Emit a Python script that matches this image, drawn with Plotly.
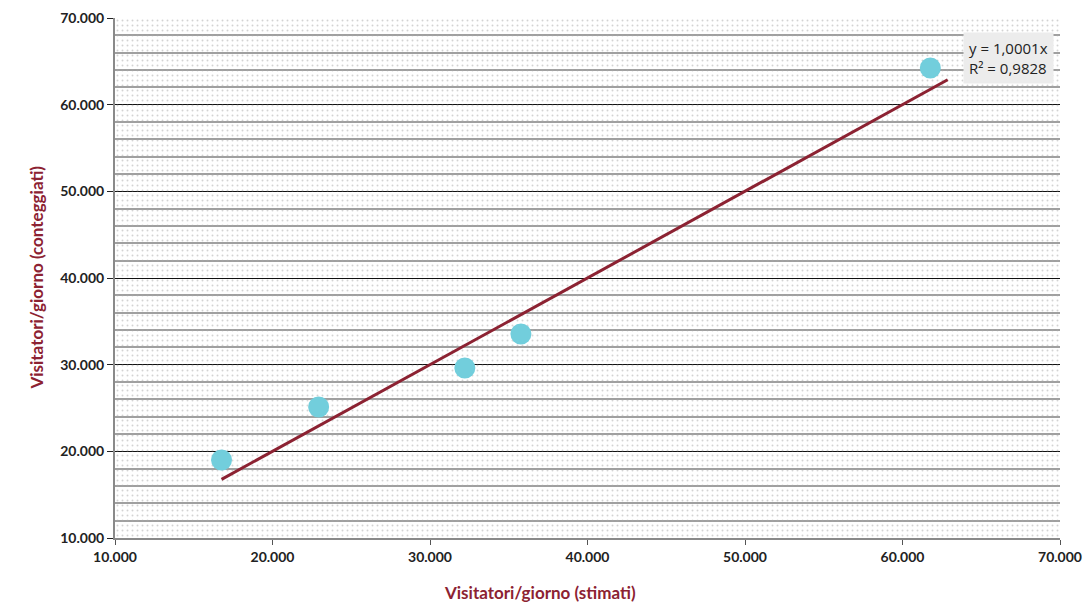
import plotly.graph_objects as go

# data
stimati = [16764, 22930, 32212, 35772, 61767]
conteggiati = [19000, 25115, 29615, 33538, 64230]
slope = 1.0001
r2 = 0.9828
forecast_forward = 1100
x_range = [10000, 70000]
y_range = [10000, 70000]
x_title = "Visitatori/giorno (stimati)"
y_title = "Visitatori/giorno (conteggiati)"

trend_x = [min(stimati), max(stimati) + forecast_forward]
trend_y = [slope * v for v in trend_x]

RED = "#8C2232"
FONT = "Lato"

fig = go.Figure()

# dotted background pattern
fig.add_trace(go.Scatter(
    x=[x_range[0], x_range[1], x_range[1], x_range[0], x_range[0]],
    y=[y_range[0], y_range[0], y_range[1], y_range[1], y_range[0]],
    mode="none", fill="toself", fillcolor="rgba(0,0,0,0)",
    fillpattern=dict(shape=".", fgcolor="#a8a8a8", bgcolor="rgba(0,0,0,0)",
                     size=5, solidity=0.12, fillmode="overlay"),
    hoverinfo="skip", showlegend=False))

fig.add_trace(go.Scatter(
    x=stimati, y=conteggiati, mode="markers",
    marker=dict(size=21, color="#72CEDC", line=dict(width=0)),
    showlegend=False))

fig.add_trace(go.Scatter(
    x=trend_x, y=trend_y, mode="lines",
    line=dict(color=RED, width=3), showlegend=False))

fig.update_layout(
    width=1083, height=603,
    margin=dict(l=115, r=23, t=18, b=65, autoexpand=False),
    paper_bgcolor="white", plot_bgcolor="white",
    separators=",.",
    font=dict(family=FONT, color="#222222", size=14),
    xaxis=dict(range=x_range, tickmode="linear", tick0=10000, dtick=10000,
               tickformat=",d", showgrid=False, zeroline=False, automargin=False,
               showline=True, linecolor="#8a8a8a", linewidth=2,
               ticks="outside", ticklen=5, tickcolor="#555", tickwidth=1,
               tickfont=dict(family=FONT, size=14, color="#222", weight="bold")),
    yaxis=dict(range=y_range, tickmode="linear", tick0=10000, dtick=10000,
               tickformat=",d", showgrid=True, gridcolor="#111111", gridwidth=1.3,
               zeroline=False, automargin=False,
               minor=dict(dtick=2000, showgrid=True, gridcolor="#a0a0a0", gridwidth=2),
               showline=True, linecolor="#8a8a8a", linewidth=2,
               ticks="outside", ticklen=6, tickcolor="#222", tickwidth=1,
               tickfont=dict(family=FONT, size=14, color="#222", weight="bold")),
    annotations=[
        dict(text=f"y = {str(slope).replace('.', ',')}x<br>R² = {str(r2).replace('.', ',')}",
             xref="paper", yref="paper", x=0.994, y=0.973, xanchor="right", yanchor="top",
             showarrow=False, align="left", bgcolor="#ececec", borderpad=5,
             font=dict(family="Open Sans", size=15, color="#222")),
        dict(text=x_title, xref="paper", yref="paper", x=0.45, y=-0.083,
             xanchor="center", yanchor="top", showarrow=False, borderpad=0,
             font=dict(family=FONT, size=17, color=RED, weight="bold")),
        dict(text=y_title, xref="paper", yref="paper", x=-0.084, y=0.5,
             xanchor="center", yanchor="middle", textangle=-90, showarrow=False,
             font=dict(family=FONT, size=17, color=RED, weight="bold")),
    ],
)

fig.write_html("out.html", config={"displayModeBar": False},
               post_script="document.body.style.margin='0';document.body.style.overflow='hidden';")
